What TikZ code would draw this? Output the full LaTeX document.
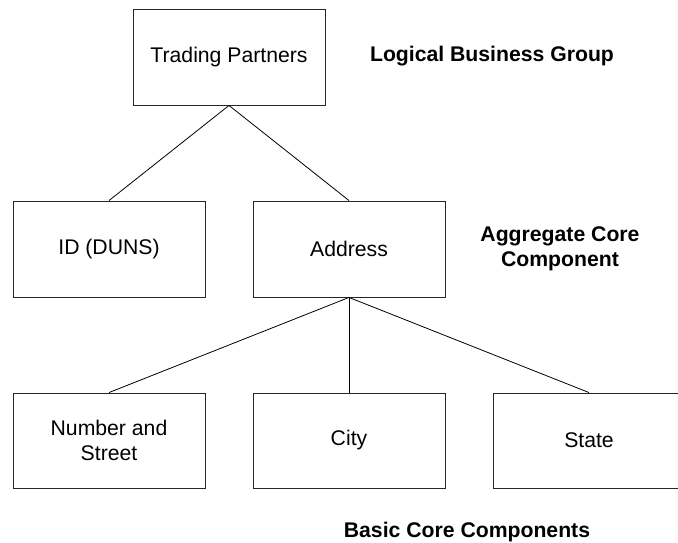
\documentclass[tikz,border=0pt]{standalone}
\usepackage{fontspec}
\setmainfont{Liberation Sans}
\begin{document}
\begin{tikzpicture}[x=1pt,y=-1pt,
  box/.style={draw=black!85, line width=0.9pt, minimum width=192pt, minimum height=96pt, inner sep=0pt, align=center, font=\fontsize{21.2}{25}\selectfont},
  lbl/.style={align=center, font=\fontsize{21.2}{25}\selectfont\bfseries, inner sep=0pt},
  link/.style={draw=black, line width=0.8pt}]
\useasboundingbox (0,0) rectangle (678,543);
\clip (0,0) rectangle (678,543);
\node[box] (tp) at (229,57) {Trading Partners};
\node[box] (id) at (109,249) {ID (DUNS)};
\node[box] (addr) at (349,249) {Address};
\node[box, minimum height=95pt] (ns) at (109,440.5) {Number and\\Street};
\node[box, minimum height=95pt] (city) at (349,440.5) {City};
\node[box, minimum height=95pt] (state) at (589,440.5) {State};
\draw[link] (tp.south) -- (id.north);
\draw[link] (tp.south) -- (addr.north);
\draw[link] (addr.south) -- (ns.north);
\draw[link] (addr.south) -- (city.north);
\draw[link] (addr.south) -- (state.north);
\node[lbl] (lbg) at (492,56) {Logical Business Group};
\node[lbl] (acc) at (560,249) {Aggregate Core\\Component};
\node[lbl] (bcc) at (467,532) {Basic Core Components};
\end{tikzpicture}
\end{document}
